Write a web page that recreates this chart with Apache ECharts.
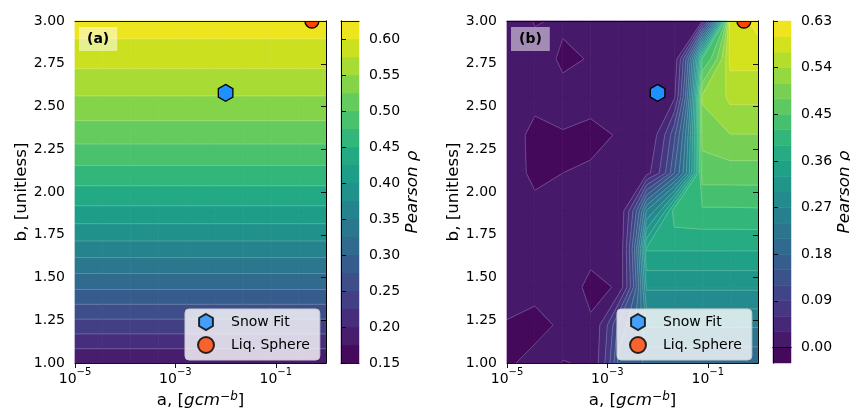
<!DOCTYPE html>
<html><head><meta charset="utf-8">
<script src="https://cdn.jsdelivr.net/npm/echarts@6/dist/echarts.min.js"></script>
<style>html,body{margin:0;padding:0;background:#fff}#c{width:850px;height:410px}</style>
</head><body><div id="c"></div><script>
// ---------------- DATA ----------------
// grid of the parameter sweep: log10(a) and b
const aExp  = [-5, -4.444, -3.889, -3.333, -2.778, -2.222, -1.667, -1.111, -0.556, 0];
const bGrid = [1.000, 1.222, 1.444, 1.667, 1.889, 2.111, 2.333, 2.556, 2.778, 3.000];
// panel (a): correlation depends on b only (one value per b row)
const rhoA_byB = [0.176, 0.240, 0.304, 0.3635, 0.4185, 0.466, 0.5105, 0.549, 0.584, 0.614];
// panel (b): rows = b (1 -> 3), columns = a (1e-5 -> 1)
const rhoB_r0 = [-0.003, 0.012, -0.001, 0.005, 0.161, 0.185, 0.185, 0.185, 0.185, 0.185];
const rhoB_r1 = [-0.002, -0.012, 0.012, 0.005, 0.130, 0.244, 0.244, 0.244, 0.244, 0.244];
const rhoB_r2 = [0.012, 0.012, 0.012, -0.010, 0.006, 0.305, 0.305, 0.305, 0.305, 0.305];
const rhoB_r3 = [0.012, 0.012, 0.012, 0.012, 0.001, 0.363, 0.363, 0.363, 0.363, 0.363];
const rhoB_r4 = [0.012, 0.012, 0.012, 0.012, 0.005, 0.243, 0.410, 0.415, 0.415, 0.416];
const rhoB_r5 = [0.012, -0.010, 0.000, 0.008, 0.012, 0.020, 0.150, 0.466, 0.466, 0.466];
const rhoB_r6 = [0.012, -0.012, -0.002, -0.015, 0.007, 0.005, 0.114, 0.490, 0.509, 0.509];
const rhoB_r7 = [0.012, 0.012, 0.012, 0.020, 0.012, 0.012, 0.025, 0.515, 0.548, 0.548];
const rhoB_r8 = [0.012, 0.012, -0.007, 0.004, 0.012, 0.012, 0.010, 0.420, 0.580, 0.580];
const rhoB_r9 = [0.012, -0.002, 0.006, 0.012, 0.012, 0.012, 0.012, 0.028, 0.588, 0.612];
// contour levels and colorbar ticks
const levelsA = [0.150, 0.175, 0.200, 0.225, 0.250, 0.275, 0.300, 0.325, 0.350, 0.375, 0.400, 0.425, 0.450, 0.475, 0.500, 0.525, 0.550, 0.575, 0.600, 0.625];
const levelsB = [-0.03, 0.00, 0.03, 0.06, 0.09, 0.12, 0.15, 0.18, 0.21, 0.24, 0.27, 0.30, 0.33, 0.36, 0.39, 0.42, 0.45, 0.48, 0.51, 0.54, 0.57, 0.60, 0.63];
const cbTicksA = [0.15, 0.20, 0.25, 0.30, 0.35, 0.40, 0.45, 0.50, 0.55, 0.60];
const cbTicksB = [0.00, 0.09, 0.18, 0.27, 0.36, 0.45, 0.54, 0.63];
const xTickExp = [-5, -3, -1];
// reference points [a, b]
const snowFitPoint = [0.0100, 2.58];
const liqSpherePoint = [0.5236, 3.00];

// ---------------- BUILD ----------------
const FONT = 'DejaVu Sans';
const rhoA = bGrid.map((_, j) => aExp.map(() => rhoA_byB[j]));
const rhoB = [rhoB_r0, rhoB_r1, rhoB_r2, rhoB_r3, rhoB_r4, rhoB_r5, rhoB_r6, rhoB_r7, rhoB_r8, rhoB_r9];
const aLin = aExp.map(e => Math.pow(10, e));

const VIR = ['#440154','#471365','#482475','#463480','#414487','#3b528b','#355f8d','#2f6c8e','#2a788e','#25848e','#21918c','#1e9c89','#22a884','#2fb47c','#44bf70','#5ec962','#7ad151','#9bd93c','#bddf26','#dfe318','#fde725'];
function hex2rgb(h){return [parseInt(h.substr(1,2),16),parseInt(h.substr(3,2),16),parseInt(h.substr(5,2),16)];}
function viridis(t){
  t = Math.max(0, Math.min(1, t));
  const f = t * (VIR.length - 1), i = Math.min(Math.floor(f), VIR.length - 2), u = f - i;
  const c0 = hex2rgb(VIR[i]), c1 = hex2rgb(VIR[i+1]);
  return 'rgb(' + c0.map((v,k)=>Math.round(v + u*(c1[k]-v))).join(',') + ')';
}
function bandColors(levels){const n=levels.length-1;const out=[];for(let k=0;k<n;k++)out.push(viridis((k+0.5)/n));return out;}
const colorsA = bandColors(levelsA), colorsB = bandColors(levelsB);

function clip(poly, L, keepAbove){
  const out = [];
  for (let k=0;k<poly.length;k++){
    const P = poly[k], Q = poly[(k+1)%poly.length];
    const pin = keepAbove ? P.z >= L : P.z <= L;
    const qin = keepAbove ? Q.z >= L : Q.z <= L;
    if (pin) out.push(P);
    if (pin !== qin){
      const t = (L - P.z)/(Q.z - P.z);
      out.push({a: P.a + t*(Q.a-P.a), b: P.b + t*(Q.b-P.b), z: L});
    }
  }
  return out;
}
function quadOf(Z, i, j){
  return [
    {a: aLin[i],   b: bGrid[j],   z: Z[j][i]},
    {a: aLin[i+1], b: bGrid[j],   z: Z[j][i+1]},
    {a: aLin[i+1], b: bGrid[j+1], z: Z[j+1][i+1]},
    {a: aLin[i],   b: bGrid[j+1], z: Z[j+1][i]}
  ];
}
const cells = [];
for (let j=0;j<bGrid.length-1;j++) for (let i=0;i<aExp.length-1;i++)
  cells.push([(aExp[i]+aExp[i+1])/2, (bGrid[j]+bGrid[j+1])/2, i, j]);

function fillRender(Z, levels, colors){
  return function(params, api){
    const q = quadOf(Z, api.value(2), api.value(3));
    const toPx = p => api.coord([Math.log10(p.a), p.b]);
    const children = [];
    for (let k=0;k<levels.length-1;k++){
      let poly = clip(q, levels[k], true);
      if (poly.length < 3) continue;
      poly = clip(poly, levels[k+1], false);
      if (poly.length < 3) continue;
      children.push({type:'polygon', shape:{points: poly.map(toPx)}, style:{fill: colors[k], stroke: colors[k], lineWidth: 0.7}});
    }
    return {type:'group', children};
  };
}
function lineRender(Z, levels){
  return function(params, api){
    const q = quadOf(Z, api.value(2), api.value(3));
    const toPx = p => api.coord([Math.log10(p.a), p.b]);
    const children = [];
    for (let k=1;k<levels.length-1;k++){
      const L = levels[k], pts = [];
      for (let m=0;m<4;m++){
        const P=q[m], Q=q[(m+1)%4];
        if ((P.z < L) !== (Q.z < L)){
          const t=(L-P.z)/(Q.z-P.z);
          pts.push(toPx({a:P.a+t*(Q.a-P.a), b:P.b+t*(Q.b-P.b)}));
        }
      }
      for (let s=0;s+1<pts.length;s+=2){
        children.push({type:'line', shape:{x1:pts[s][0],y1:pts[s][1],x2:pts[s+1][0],y2:pts[s+1][1]},
          style:{stroke:'rgba(255,255,255,0.28)', lineWidth:0.7}});
      }
    }
    return {type:'group', children};
  };
}
function cbData(levels){const d=[];for(let k=0;k<levels.length-1;k++)d.push([0.5, levels[k], levels[k+1], k]);return d;}
function cbRender(colors){
  return function(params, api){
    const p0 = api.coord([0, api.value(1)]), p1 = api.coord([1, api.value(2)]);
    const c = colors[api.value(3)];
    return {type:'rect', shape:{x:p0[0], y:p1[1], width:p1[0]-p0[0], height:p0[1]-p1[1]}, style:{fill:c, stroke:c, lineWidth:0.5}};
  };
}
// marker symbols drawn at data positions, clipped to the axes area like matplotlib
function areaClip(params){
  const cs = params.coordSys;
  return {type:'rect', shape:{x:cs.x, y:cs.y, width:cs.width, height:cs.height}};
}
function hexRender(params, api){
  const c = api.coord([api.value(0), api.value(1)]);
  const r = 8.4;
  const P = [[0,-1],[0.866,-0.5],[0.866,0.5],[0,1],[-0.866,0.5],[-0.866,-0.5]].map(v => [c[0] + v[0]*r, c[1] + v[1]*r]);
  return {type:'group', clipPath:areaClip(params), children:[
    {type:'polygon', shape:{points:P}, style:{fill:'#1E90FF', stroke:'#000', lineWidth:1.3}}]};
}
function circRender(params, api){
  const c = api.coord([api.value(0), api.value(1)]);
  return {type:'group', clipPath:areaClip(params), children:[
    {type:'circle', shape:{cx:c[0], cy:c[1], r:7}, style:{fill:'#FF4500', stroke:'#000', lineWidth:1.3}}]};
}

const spine = {show:true, lineStyle:{color:'#000', width:0.9}};
function spineAxis(gridIndex, position, min, max){
  return {type:'value', gridIndex, position, min, max, z:10, axisLine:spine, axisTick:{show:false}, axisLabel:{show:false}, splitLine:{show:false}};
}
const supRich = {
  b:{fontSize:14, fontFamily:FONT, color:'#000', lineHeight:24},
  s:{fontSize:10, fontFamily:FONT, color:'#000', lineHeight:12, verticalAlign:'top'}
};
function mainX(gridIndex){
  return {type:'value', gridIndex, position:'bottom', min:-5, max:0, z:10,
    axisLine:spine,
    axisTick:{show:true, length:5, customValues:xTickExp, lineStyle:{color:'#000', width:0.9}},
    axisLabel:{show:true, customValues:xTickExp, margin:4, formatter: v => '{b|10}{s|\u2212' + Math.abs(Math.round(v)) + '}', rich:supRich},
    splitLine:{show:false},
    name:'{n|a, [}{i|gcm}{s|\u2212b}{n|]}', nameLocation:'middle', nameGap:24,
    nameTextStyle:{rich:{
      n:{fontSize:16.7, fontFamily:FONT, color:'#000', lineHeight:20},
      i:{fontSize:16.7, fontFamily:FONT, fontStyle:'italic', color:'#000', lineHeight:20},
      s:{fontSize:12, fontFamily:FONT, fontStyle:'italic', color:'#000', lineHeight:10, verticalAlign:'top'}
    }}
  };
}
function mainY(gridIndex){
  return {type:'value', gridIndex, position:'left', min:1, max:3, interval:0.25, z:10,
    axisLine:spine,
    axisTick:{show:true, length:5, lineStyle:{color:'#000', width:0.9}},
    axisLabel:{show:true, margin:10, fontSize:14, fontFamily:FONT, color:'#000', formatter: v => v.toFixed(2)},
    splitLine:{show:false},
    name:'b, [unitless]', nameLocation:'middle', nameGap:42, nameRotate:90,
    nameTextStyle:{fontSize:16.7, fontFamily:FONT, color:'#000'}
  };
}
function cbY(gridIndex, min, max, ticks){
  return {type:'value', gridIndex, position:'right', min, max, z:10,
    axisLine:spine,
    axisTick:{show:true, length:5, customValues:ticks, lineStyle:{color:'#000', width:0.9}},
    axisLabel:{show:true, customValues:ticks, margin:10, fontSize:14, fontFamily:FONT, color:'#000', formatter: v => v.toFixed(2)},
    splitLine:{show:false},
    name:'Pearson \u03c1', nameLocation:'middle', nameGap:44, nameRotate:90,
    nameTextStyle:{fontSize:16.7, fontFamily:FONT, fontStyle:'italic', color:'#000'}
  };
}
const hexPath = 'path://M0,-1L0.866,-0.5L0.866,0.5L0,1L-0.866,0.5L-0.866,-0.5Z';
function markers(xi, yi){
  return [
    // legend entries
    {type:'scatter', name:'Snow Fit', xAxisIndex:xi, yAxisIndex:yi, data:[], symbol:hexPath, symbolKeepAspect:true,
     itemStyle:{color:'#1E90FF', borderColor:'#000', borderWidth:1.3}},
    {type:'scatter', name:'Liq. Sphere', xAxisIndex:xi, yAxisIndex:yi, data:[], symbol:'circle',
     itemStyle:{color:'#FF4500', borderColor:'#000', borderWidth:1.3}},
    // the points themselves
    {type:'custom', xAxisIndex:xi, yAxisIndex:yi, z:6, clip:true, silent:true,
     data:[[Math.log10(snowFitPoint[0]), snowFitPoint[1]]], encode:{x:0,y:1}, renderItem:hexRender},
    {type:'custom', xAxisIndex:xi, yAxisIndex:yi, z:6, clip:true, silent:true,
     data:[[Math.log10(liqSpherePoint[0]), liqSpherePoint[1]]], encode:{x:0,y:1}, renderItem:circRender}
  ];
}
function legendAt(left){
  return {left, top:309, orient:'vertical', data:['Snow Fit','Liq. Sphere'], selectedMode:false,
    itemWidth:40, itemHeight:16, itemGap:5, padding:[4,10,6,12],
    backgroundColor:'rgba(255,255,255,0.8)', borderColor:'#cccccc', borderWidth:1, borderRadius:4,
    textStyle:{fontSize:14, fontFamily:FONT, color:'#000'}, z:20};
}
function panelLabel(txt, left){
  return {type:'text', left, top:27, z:30, style:{text:txt, font:'bold 14px "DejaVu Sans"', fill:'#000',
    backgroundColor:'rgba(255,255,255,0.5)', padding:[5,8,5,8]}};
}
function gridAt(left, width){
  return {left, top:21, width, height:342, containLabel:false, outerBoundsMode:'none'};
}

const option = {
  animation:false,
  textStyle:{fontFamily:FONT},
  grid:[gridAt(75,251), gridAt(341,18), gridAt(507,251), gridAt(773,18)],
  xAxis:[
    mainX(0), spineAxis(0,'top',-5,0),
    spineAxis(1,'bottom',0,1), spineAxis(1,'top',0,1),
    mainX(2), spineAxis(2,'top',-5,0),
    spineAxis(3,'bottom',0,1), spineAxis(3,'top',0,1)
  ],
  yAxis:[
    mainY(0), spineAxis(0,'right',1,3),
    spineAxis(1,'left',levelsA[0],levelsA[levelsA.length-1]), cbY(1, levelsA[0], levelsA[levelsA.length-1], cbTicksA),
    mainY(2), spineAxis(2,'right',1,3),
    spineAxis(3,'left',levelsB[0],levelsB[levelsB.length-1]), cbY(3, levelsB[0], levelsB[levelsB.length-1], cbTicksB)
  ],
  legend:[legendAt(185), legendAt(617)],
  graphic:[panelLabel('(a)', 79), panelLabel('(b)', 511)],
  series:[
    {type:'custom', xAxisIndex:0, yAxisIndex:0, z:2, silent:true, data:cells, encode:{x:0,y:1}, renderItem:fillRender(rhoA, levelsA, colorsA)},
    {type:'custom', xAxisIndex:0, yAxisIndex:0, z:3, silent:true, data:cells, encode:{x:0,y:1}, renderItem:lineRender(rhoA, levelsA)},
    {type:'custom', xAxisIndex:2, yAxisIndex:3, z:2, silent:true, data:cbData(levelsA), encode:{x:0,y:[1,2]}, renderItem:cbRender(colorsA)},
    ...markers(0,0),
    {type:'custom', xAxisIndex:4, yAxisIndex:4, z:2, silent:true, data:cells, encode:{x:0,y:1}, renderItem:fillRender(rhoB, levelsB, colorsB)},
    {type:'custom', xAxisIndex:4, yAxisIndex:4, z:3, silent:true, data:cells, encode:{x:0,y:1}, renderItem:lineRender(rhoB, levelsB)},
    {type:'custom', xAxisIndex:6, yAxisIndex:7, z:2, silent:true, data:cbData(levelsB), encode:{x:0,y:[1,2]}, renderItem:cbRender(colorsB)},
    ...markers(4,4)
  ]
};
const chart = echarts.init(document.getElementById('c'), null, {renderer:'canvas'});
chart.setOption(option);
</script></body></html>
